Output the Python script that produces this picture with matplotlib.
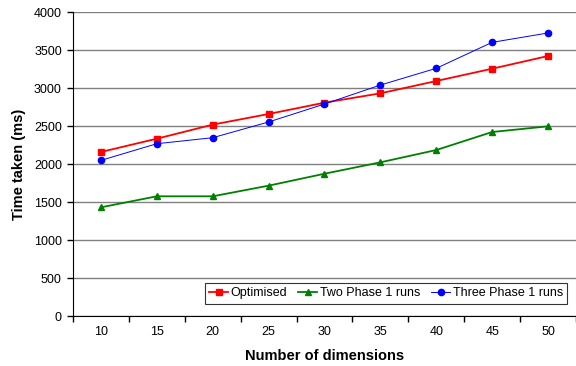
import numpy as np
import matplotlib
matplotlib.use("Agg")
import matplotlib.pyplot as plt

plt.rcParams['font.family'] = ['Liberation Sans', 'DejaVu Sans']

dimensions = [10, 15, 20, 25, 30, 35, 40, 45, 50]
optimised = [2158, 2333, 2518, 2658, 2807, 2930, 3092, 3254, 3421]
two_phase = [1430, 1575, 1575, 1715, 1872, 2022, 2184, 2421, 2496]
three_phase = [2048, 2267, 2346, 2553, 2789, 3039, 3259, 3601, 3724]
y_ticks = [0, 500, 1000, 1500, 2000, 2500, 3000, 3500, 4000]

fig = plt.figure(figsize=(5.76, 3.66), dpi=100)
ax = fig.add_axes([0.1267, 0.1366, 0.8733, 0.8306])

x = np.arange(len(dimensions))
ax.plot(x, optimised, color='#ff0000', lw=1.3, marker='s', ms=4.5,
        label='Optimised', zorder=3)
ax.plot(x, two_phase, color='#008000', lw=1.3, marker='^', ms=5,
        label='Two Phase 1 runs', zorder=3)
ax.plot(x, three_phase, color='#0000ff', lw=0.7, marker='o', ms=4.5,
        label='Three Phase 1 runs', zorder=3)

ax.set_xlim(-0.5, len(dimensions) - 0.5)
ax.set_ylim(0, 4000)
ax.set_yticks(y_ticks)
ax.yaxis.grid(True, color='#808080', lw=1)
ax.set_axisbelow(True)

# category axis: labels centred, tick marks on the boundaries
ax.set_xticks(x)
ax.set_xticklabels([str(d) for d in dimensions])
ax.set_xticks(np.arange(-0.5, len(dimensions)), minor=True)
ax.tick_params(axis='x', which='major', length=0, pad=7, labelsize=9)
ax.tick_params(axis='x', which='minor', length=4, width=1, direction='out')
ax.tick_params(axis='y', length=4, width=1, direction='out', labelsize=9, pad=4)

for side in ['top', 'right']:
    ax.spines[side].set_visible(False)
ax.spines['left'].set_color('black')
ax.spines['bottom'].set_color('black')

ax.set_xlabel('Number of dimensions', fontsize=10.5, fontweight='bold', labelpad=8)
ax.set_ylabel('Time taken (ms)', fontsize=10.5, fontweight='bold', labelpad=6)

leg = ax.legend(loc='lower right', ncol=3, fontsize=9, frameon=True, fancybox=False,
                edgecolor='black', handlelength=1.5, handletextpad=0.2,
                columnspacing=0.9, borderpad=0.35, bbox_to_anchor=(0.995, 0.02))
leg.get_frame().set_linewidth(0.8)

fig.savefig('out.png', dpi=100)
